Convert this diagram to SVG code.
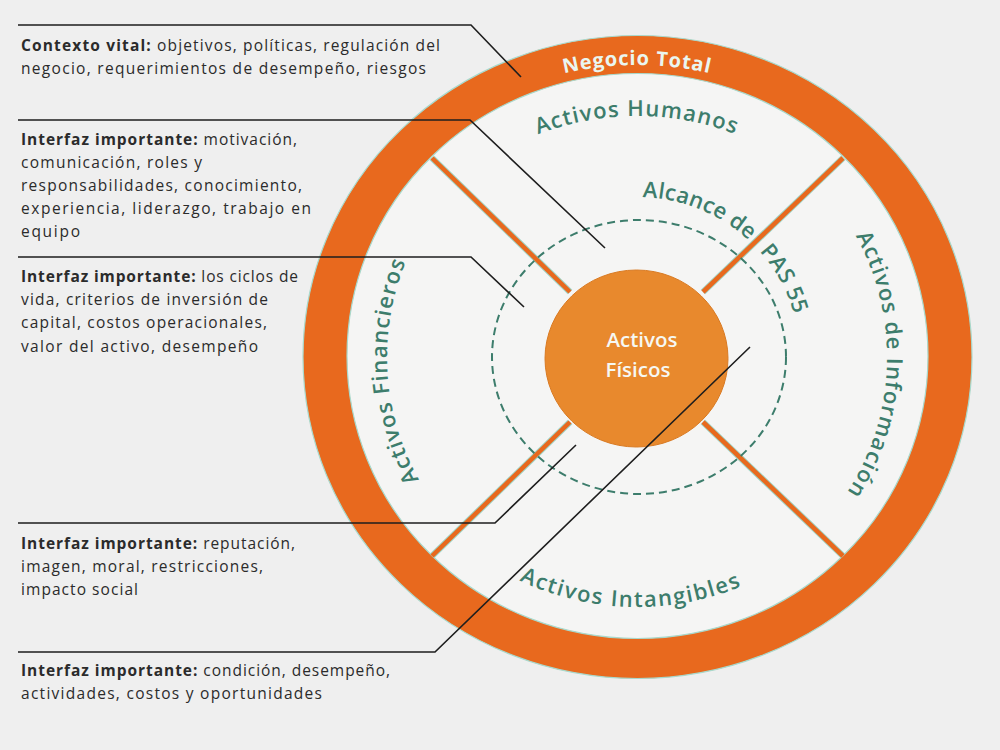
<svg xmlns="http://www.w3.org/2000/svg" width="1000" height="750" viewBox="0 0 1000 750">
<style>
.note{font-family:"Open Sans","Noto Sans",sans-serif;font-size:15.5px;fill:#2b2b2b}
.b{font-weight:700}
.lbl{font-family:"Open Sans","Noto Sans",sans-serif;font-size:22px;font-weight:600;fill:#3d7d6c}
.lead{fill:none;stroke:#1e1e1e;stroke-width:1.6}
.spokeE{stroke:#9fd3c4;stroke-width:6.5}
.spoke{stroke:#e8691e;stroke-width:4.5}
</style>
<defs>
<path id="pNeg" d="M370.3,211 A308,292 0 0 1 903.7,211"/>
<path id="pHum" d="M413.6,236.5 A258,241 0 0 1 860.4,236.5"/>
<path id="pFin" d="M525.1,580.6 A250,250 0 0 1 499.4,148.3"/>
<path id="pInf" d="M769.5,145 A250,250 0 0 1 754.4,577.7"/>
<path id="pInt" d="M406.8,476.3 A262,250 0 0 0 860.4,487.6"/>
<path id="pAlc" d="M642.7,197.1 A163,160 0 0 1 790.2,411.7"/>
</defs>
<rect width="1000" height="750" fill="#efefef"/>

<g id="negocio-total">
<ellipse cx="637.5" cy="357" rx="334.5" ry="321.5" fill="#e8691e" stroke="#a8d9cc" stroke-width="1.2"/>
<ellipse cx="637.5" cy="356" rx="290.5" ry="282.5" fill="#f5f5f4" stroke="#a8d9cc" stroke-width="1.2"/>
<text font-family="Open Sans, Noto Sans, sans-serif" font-size="20" font-weight="700" letter-spacing="0.8" fill="#eaf6f0" text-anchor="middle"><textPath href="#pNeg" startOffset="50%">Negocio Total</textPath></text>
</g>

<g id="spokes">
<line class="spokeE" x1="570" y1="292" x2="432" y2="158"/>
<line class="spokeE" x1="703" y1="292" x2="843" y2="158"/>
<line class="spokeE" x1="570" y1="422" x2="432" y2="556"/>
<line class="spokeE" x1="703" y1="422" x2="843" y2="556"/>
<line class="spoke" x1="570" y1="292" x2="432" y2="158"/>
<line class="spoke" x1="703" y1="292" x2="843" y2="158"/>
<line class="spoke" x1="570" y1="422" x2="432" y2="556"/>
<line class="spoke" x1="703" y1="422" x2="843" y2="556"/>
</g>

<g id="alcance-pas55">
<ellipse cx="639" cy="357" rx="147" ry="137" fill="none" stroke="#3d7d6c" stroke-width="2" stroke-dasharray="8 5"/>
<text class="lbl" font-size="19" letter-spacing="0.3"><textPath href="#pAlc">Alcance de<tspan dx="15">PAS 55</tspan></textPath></text>
</g>

<g id="activos-fisicos">
<ellipse cx="636.5" cy="358.5" rx="91.5" ry="88.5" fill="#e8892d" stroke="#d97a22" stroke-width="1"/>
<text font-family="Open Sans, Noto Sans, sans-serif" font-size="20.5" font-weight="600" fill="#f6f8f3" text-anchor="middle"><tspan x="642" y="347">Activos</tspan><tspan x="638" y="377">Físicos</tspan></text>
</g>

<g id="activos-humanos">
<text class="lbl" letter-spacing="1.2" text-anchor="middle"><textPath href="#pHum" startOffset="50%">Activos Humanos</textPath></text>
</g>
<g id="activos-financieros">
<text class="lbl" letter-spacing="1.2" text-anchor="middle"><textPath href="#pFin" startOffset="50%">Activos Financieros</textPath></text>
</g>
<g id="activos-informacion">
<text class="lbl" letter-spacing="1.2" text-anchor="middle"><textPath href="#pInf" startOffset="50%">Activos de Información</textPath></text>
</g>
<g id="activos-intangibles">
<text class="lbl" font-size="23" letter-spacing="1.6" text-anchor="middle"><textPath href="#pInt" startOffset="50%">Activos Intangibles</textPath></text>
</g>

<g id="nota-contexto">
<text class="note" x="21" y="51" textLength="419" lengthAdjust="spacing"><tspan class="b">Contexto vital:</tspan> objetivos, políticas, regulación del</text>
<text class="note" x="21" y="74" textLength="405" lengthAdjust="spacing">negocio, requerimientos de desempeño, riesgos</text>
</g>
<g id="nota-humanos">
<text class="note" x="21" y="145" textLength="276" lengthAdjust="spacing"><tspan class="b">Interfaz importante:</tspan> motivación,</text>
<text class="note" x="21" y="168" textLength="181" lengthAdjust="spacing">comunicación, roles y</text>
<text class="note" x="21" y="191" textLength="281" lengthAdjust="spacing">responsabilidades, conocimiento,</text>
<text class="note" x="21" y="214" textLength="290" lengthAdjust="spacing">experiencia, liderazgo,  trabajo en</text>
<text class="note" x="21" y="237" textLength="59" lengthAdjust="spacing">equipo</text>
</g>
<g id="nota-financieros">
<text class="note" x="21" y="282" textLength="277" lengthAdjust="spacing"><tspan class="b">Interfaz importante:</tspan> los ciclos de</text>
<text class="note" x="21" y="305" textLength="247" lengthAdjust="spacing">vida, criterios de inversión de</text>
<text class="note" x="21" y="328" textLength="246" lengthAdjust="spacing">capital, costos operacionales,</text>
<text class="note" x="21" y="352" textLength="237" lengthAdjust="spacing">valor del activo, desempeño</text>
</g>
<g id="nota-intangibles">
<text class="note" x="21" y="549" textLength="274" lengthAdjust="spacing"><tspan class="b">Interfaz importante:</tspan> reputación,</text>
<text class="note" x="21" y="572" textLength="242" lengthAdjust="spacing">imagen, moral, restricciones,</text>
<text class="note" x="21" y="595" textLength="117" lengthAdjust="spacing">impacto social</text>
</g>
<g id="nota-fisicos">
<text class="note" x="21" y="676" textLength="369" lengthAdjust="spacing"><tspan class="b">Interfaz importante:</tspan> condición, desempeño,</text>
<text class="note" x="21" y="699" textLength="301" lengthAdjust="spacing">actividades, costos y oportunidades</text>
</g>

<g id="connectors">
<polyline class="lead" points="18,25 471,25 521,77"/>
<polyline class="lead" points="18,120 470,120 605,248"/>
<polyline class="lead" points="18,257 471,257 524,307"/>
<polyline class="lead" points="18,523 495,523 576,445"/>
<polyline class="lead" points="18,652 435,652 750,347"/>
</g>
</svg>
